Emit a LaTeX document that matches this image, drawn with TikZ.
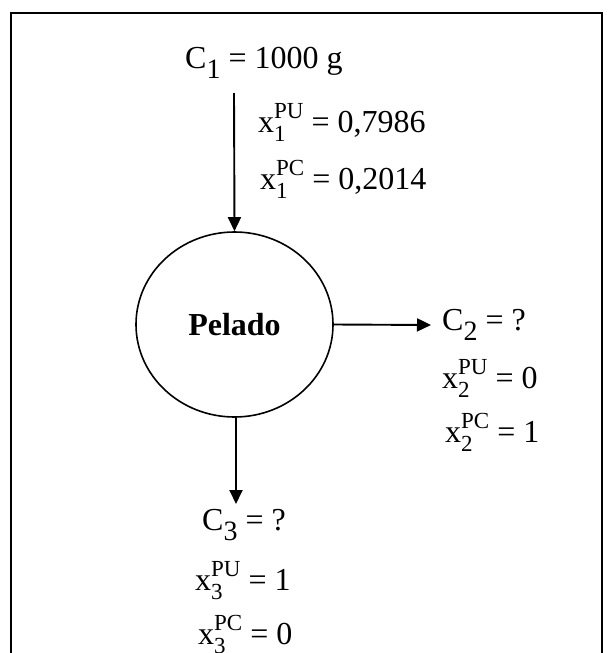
\documentclass[tikz,border=0pt]{standalone}
\usepackage{fontspec}
\setmainfont{Liberation Serif}
\usetikzlibrary{arrows.meta,shapes.geometric}
\newcommand{\xsp}[2]{x\makebox[0pt][l]{\raisebox{-0.30em}{\fontsize{23}{23}\selectfont #1}}\raisebox{0.42em}{\fontsize{23}{23}\selectfont #2}}
\newcommand{\csub}[1]{C\raisebox{-0.32em}{\fontsize{28}{28}\selectfont #1}}
\begin{document}
\begin{tikzpicture}[x=1pt,y=-1pt,
  lbl/.style={inner sep=0pt,anchor=base west,font=\fontsize{32}{36}\selectfont},
  flow/.style={line width=1.9pt,-{Triangle[length=14pt,width=13pt]}},
  proc/.style={ellipse,draw,line width=1.6pt,minimum width=197pt,minimum height=185pt,inner sep=0pt,font=\fontsize{32}{36}\selectfont\bfseries}]
\useasboundingbox (0,0) rectangle (610,653);
\draw[line width=2pt] (11,660) -- (11,13) -- (602,13) -- (602,660);
\node[lbl] (c1) at (185,68) {\csub{1} = 1000 g};
\node[lbl] (x1u) at (258,132) {\xsp{1}{PU} = 0,7986};
\node[lbl] (x1c) at (260,189) {\xsp{1}{PC} = 0,2014};
\coordinate (a1) at (234,93);
\node[proc] (p) at (234.5,324.5) {Pelado};
\node[lbl] (c2) at (442,330) {\csub{2} = ?};
\node[lbl] (x2u) at (442,388) {\xsp{2}{PU} = 0};
\node[lbl] (x2c) at (445,442) {\xsp{2}{PC} = 1};
\node[lbl] (c3) at (202,530) {\csub{3} = ?};
\node[lbl] (x3u) at (195,590) {\xsp{3}{PU} = 1};
\node[lbl] (x3c) at (198,644) {\xsp{3}{PC} = 0};
\coordinate (a2) at (431,325);
\coordinate (a3) at (236,504);
\draw[flow] (a1) -- (p.north);
\draw[flow] (p.east) -- (a2);
\draw[flow] (p.south -| a3) -- (a3);
\end{tikzpicture}
\end{document}
